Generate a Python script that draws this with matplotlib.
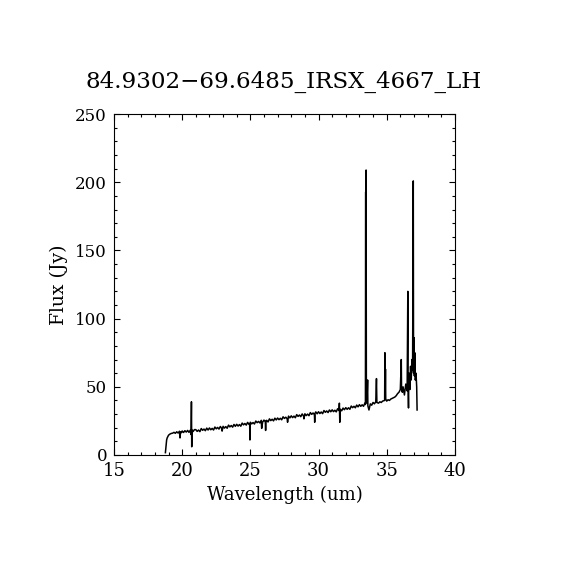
import matplotlib
matplotlib.use("Agg")
import matplotlib.pyplot as plt
from matplotlib.ticker import MultipleLocator

title = "84.9302\u221269.6485_IRSX_4667_LH"

# spectrum: wavelength (um) and flux (Jy)
wave_start = [18.77, 18.80, 18.83, 18.86, 18.90, 18.95, 19.00, 19.10, 19.20, 19.30,
              19.40, 19.50, 19.60, 19.70, 19.80, 19.84, 19.88, 19.95, 20.00, 20.10,
              20.20, 20.30, 20.40, 20.50, 20.60, 20.65, 20.68, 20.70, 20.72, 20.80,
              20.90]
flux_start = [1.7, 5.0, 9.0, 11.0, 12.5, 13.5, 14.5, 15.3, 15.8, 16.0,
              16.6, 15.9, 17.0, 16.1, 17.4, 12.5, 16.9, 16.4, 17.6, 16.5,
              17.8, 16.8, 18.0, 16.6, 18.2, 15.0, 39.0, 6.0, 18.3, 17.2,
              18.6]

wave_mid = [21.0, 21.1, 21.2, 21.3, 21.4, 21.5, 21.6, 21.7, 21.8, 21.9,
            22.0, 22.1, 22.2, 22.3, 22.4, 22.5, 22.6, 22.7, 22.8, 22.9, 22.93,
            23.0, 23.1, 23.2, 23.3, 23.4, 23.5, 23.6, 23.7, 23.8, 23.9,
            24.0, 24.1, 24.2, 24.3, 24.4, 24.5, 24.6, 24.7, 24.8, 24.9,
            24.95, 24.97, 24.99,
            25.0, 25.1, 25.2, 25.3, 25.4, 25.5, 25.6, 25.7, 25.8, 25.83, 25.9,
            26.0, 26.1, 26.12, 26.14, 26.2, 26.3, 26.4, 26.5, 26.6, 26.7, 26.8, 26.9,
            27.0, 27.1, 27.2, 27.3, 27.4, 27.5, 27.6, 27.7, 27.73, 27.8, 27.9,
            28.0, 28.1, 28.2, 28.3, 28.4, 28.5, 28.6, 28.7, 28.8, 28.9, 28.93,
            29.0, 29.1, 29.2, 29.3, 29.4, 29.5, 29.6, 29.7, 29.72, 29.74, 29.8, 29.9,
            30.0, 30.1, 30.2, 30.3, 30.4, 30.5, 30.6, 30.7, 30.8, 30.9,
            31.0, 31.1, 31.2, 31.3, 31.4, 31.5, 31.53, 31.56, 31.6, 31.7, 31.8, 31.9,
            32.0, 32.1, 32.2, 32.3, 32.4, 32.5, 32.6, 32.7, 32.8, 32.9,
            33.0, 33.1, 33.2, 33.3, 33.4]
flux_mid = [18.6, 17.3, 18.3, 17.1, 19.4, 18.1, 19.0, 17.8, 19.7, 18.3,
            19.8, 18.5, 19.5, 18.3, 20.5, 19.2, 20.2, 19.0, 20.9, 19.5, 17.5,
            21.0, 19.7, 20.8, 19.6, 21.9, 20.6, 21.6, 20.4, 22.4, 21.0,
            22.5, 21.2, 22.3, 21.1, 23.4, 22.1, 23.1, 21.9, 23.9, 22.5,
            23.0, 11.0, 23.2,
            24.0, 22.8, 23.8, 22.7, 24.9, 23.7, 24.6, 23.5, 25.4, 19.5, 24.1,
            25.6, 24.3, 18.0, 25.0, 25.4, 24.2, 26.5, 25.2, 26.2, 25.0, 27.0, 25.7,
            27.1, 25.9, 26.9, 25.8, 28.0, 26.8, 27.7, 26.6, 24.0, 28.5, 27.2,
            28.7, 27.4, 28.5, 27.3, 29.6, 28.3, 29.3, 28.1, 30.1, 28.7, 26.5,
            30.2, 28.9, 30.0, 28.8, 31.1, 29.8, 30.8, 29.6, 24.0, 30.5, 31.6, 30.2,
            31.7, 30.4, 31.5, 30.3, 32.6, 31.3, 32.3, 31.1, 33.0, 31.7,
            33.1, 31.8, 32.8, 31.6, 33.9, 32.6, 38.0, 24.0, 33.5, 32.4, 34.4, 33.2,
            34.7, 33.5, 34.6, 33.5, 35.9, 34.7, 35.7, 34.6, 36.6, 35.3,
            36.9, 35.7, 36.8, 35.7, 38.0]

wave_end = [33.44, 33.46, 33.47, 33.49, 33.51, 33.55, 33.60, 33.62, 33.70, 33.80,
            33.90, 34.00, 34.10, 34.20, 34.25, 34.28, 34.40, 34.50, 34.60, 34.70,
            34.85, 34.87, 34.89, 34.91, 34.93, 35.00, 35.10, 35.20, 35.30, 35.40,
            35.50, 35.60, 35.70, 35.80, 35.90, 36.00, 36.03, 36.05, 36.07, 36.09,
            36.15, 36.20, 36.30, 36.40, 36.50, 36.55, 36.57, 36.60, 36.62, 36.65,
            36.70, 36.75, 36.80, 36.85, 36.90, 36.95, 36.97, 37.00, 37.03, 37.06,
            37.10, 37.15, 37.20, 37.23]
flux_end = [37.0, 193.0, 45.0, 209.0, 40.0, 38.0, 55.0, 36.0, 33.0, 37.5,
            36.5, 38.5, 37.5, 39.0, 56.0, 38.5, 38.0, 39.0, 38.5, 39.5,
            40.0, 75.0, 45.0, 63.0, 41.0, 39.5, 40.5, 40.0, 41.0, 41.5,
            42.0, 42.5, 43.5, 45.0, 46.0, 48.0, 57.0, 50.0, 70.0, 48.0,
            46.0, 50.0, 44.0, 52.0, 47.0, 120.0, 50.0, 34.5, 55.0, 60.0,
            48.0, 65.0, 55.0, 70.0, 62.0, 201.0, 60.0, 86.0, 58.0, 75.0,
            55.0, 60.0, 50.0, 33.0]

wave = wave_start + wave_mid + wave_end
flux = flux_start + flux_mid + flux_end

plt.rcParams["font.family"] = ["DejaVu Serif"]
plt.rcParams["axes.linewidth"] = 0.8

fig = plt.figure(figsize=(5.7, 5.7), dpi=100)
ax = fig.add_axes([0.2, 0.2018, 0.598, 0.598])
ax.plot(wave, flux, color="black", lw=1.1)

ax.set_xlim(15, 40)
ax.set_ylim(0, 250)
ax.xaxis.set_major_locator(MultipleLocator(5))
ax.xaxis.set_minor_locator(MultipleLocator(1))
ax.yaxis.set_major_locator(MultipleLocator(50))
ax.yaxis.set_minor_locator(MultipleLocator(10))
ax.tick_params(which="both", direction="in", top=True, right=True, width=0.8)
ax.tick_params(which="major", length=4.5)
ax.tick_params(which="minor", length=2.3)
ax.tick_params(axis="x", labelsize=13, pad=5)
ax.tick_params(axis="y", labelsize=12, pad=5)

ax.set_xlabel("Wavelength (um)", fontsize=13)
ax.set_ylabel("Flux (Jy)", fontsize=13.5)
ax.yaxis.set_label_coords(-0.135, 0.5)
fig.text(0.498, 0.856, title, ha="center", va="center", fontsize=16.6)

fig.savefig("out.png", dpi=100, facecolor="white")
